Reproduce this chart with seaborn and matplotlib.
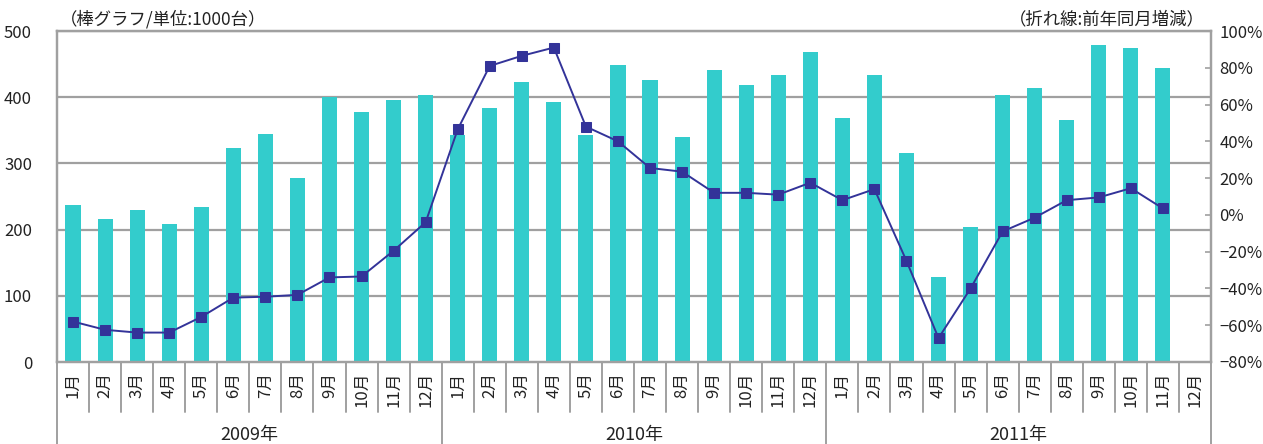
import numpy as np
import pandas as pd
import matplotlib
matplotlib.use('Agg')
import matplotlib.pyplot as plt
import matplotlib.transforms as mtransforms
import seaborn as sns

# ------------------------------------------------------------------
# Data
# ------------------------------------------------------------------
years = ['2009年', '2010年', '2011年']
months = [f'{m}月' for m in range(1, 13)]

units_2009 = [237, 216, 230, 208, 234, 323, 344, 278, 400, 378, 396, 403]
units_2010 = [343, 384, 423, 393, 343, 449, 426, 340, 441, 418, 434, 468]
units_2011 = [369, 434, 316, 128, 204, 403, 414, 366, 479, 474, 444, np.nan]

yoy_2009 = [-58, -62.5, -64, -64, -55.5, -45, -44.5, -43.5, -34, -33.5, -19.5, -4]
yoy_2010 = [46.5, 81, 86.5, 91, 48, 40, 25.5, 23.5, 12, 12, 11, 17.5]
yoy_2011 = [8, 14, -25, -67, -40, -9, -1.5, 8, 9.5, 14.5, 3.5, np.nan]

left_ticks = [0, 100, 200, 300, 400, 500]
right_ticks = [-80, -60, -40, -20, 0, 20, 40, 60, 80, 100]

df = pd.DataFrame({
    'idx': np.arange(36),
    'month': months * 3,
    'units': units_2009 + units_2010 + units_2011,
    'yoy': yoy_2009 + yoy_2010 + yoy_2011,
})

# ------------------------------------------------------------------
# Figure
# ------------------------------------------------------------------
sns.set_style('white')
plt.rcParams['font.family'] = ['Noto Sans CJK JP', 'DejaVu Sans']

BAR = '#33CCCC'
LINE = '#333399'
GRID = '#A0A0A0'
TXT = '#222222'

fig = plt.figure(figsize=(12.63, 4.44), dpi=100)
ax = fig.add_axes([57 / 1263, 82 / 444, (1211 - 57) / 1263, 331 / 444])

# horizontal grid lines behind the bars
for t in left_ticks[1:]:
    ax.axhline(t, color=GRID, linewidth=1.6, zorder=0.6)

sns.barplot(data=df, x='idx', y='units', color=BAR, saturation=1,
            width=0.47, linewidth=0, ax=ax)
for p in ax.patches:
    p.set_zorder(2)
ax.grid(False)
ax.set_xlim(-0.5, 35.5)
ax.set_ylim(0, 500)
ax.set_yticks(left_ticks)
ax.set_yticklabels([str(t) for t in left_ticks], fontsize=12, color=TXT)
ax.tick_params(axis='y', length=0, pad=18)
ax.set_xticks([])
ax.set_xlabel('')
ax.set_ylabel('')
for s in ax.spines.values():
    s.set_color(GRID)
    s.set_linewidth(1.6)

ax2 = ax.twinx()
sns.lineplot(data=df, x='idx', y='yoy', ax=ax2, color=LINE, linewidth=1.4,
             marker='s', markersize=7.5, markeredgecolor=LINE, zorder=3)
ax2.grid(False)
ax2.set_ylim(-80, 100)
ax2.set_yticks(right_ticks)
ax2.set_yticklabels([f'{t}%'.replace('-', '−') for t in right_ticks],
                    fontsize=12, color=TXT)
ax2.tick_params(axis='y', direction='in', length=4, width=1.2, color=GRID, pad=6)
ax2.set_xlim(-0.5, 35.5)
ax2.set_ylabel('')
ax2.set_xlabel('')
for s in ax2.spines.values():
    s.set_color(GRID)
    s.set_linewidth(1.6)

# ------------------------------------------------------------------
# Custom two-level x axis (months / years)
# ------------------------------------------------------------------
trans = mtransforms.blended_transform_factory(ax.transData, ax.transAxes)
for i in range(37):
    bottom = -0.248 if i % 12 == 0 else -0.151
    ax.plot([i - 0.5, i - 0.5], [0, bottom], transform=trans, color=GRID,
            linewidth=1.4, clip_on=False)
for i, m in enumerate(df['month']):
    ax.text(i, -0.03, m, transform=trans, rotation=90, ha='center', va='top',
            fontsize=12, color=TXT)
for k, y in enumerate(years):
    ax.text(12 * k + 5.5, -0.222, y, transform=trans, ha='center', va='center',
            fontsize=13, color=TXT)

# header labels
fig.text(60 / 1263, 1 - 19 / 444, '（棒グラフ/単位:1000台）', ha='left', va='center',
         fontsize=12.5, color=TXT)
fig.text(1205 / 1263, 1 - 19 / 444, '（折れ線:前年同月増減）', ha='right', va='center',
         fontsize=12.5, color=TXT)

fig.savefig('out.png', dpi=100)
